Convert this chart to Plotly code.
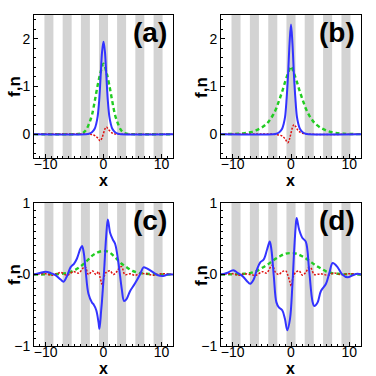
import plotly.graph_objects as go

# gray stripes (x ranges)
stripe_lo = [-10.2, -7.05, -3.9, -0.78, 2.35, 5.5, 8.65]
stripe_hi = [-8.65, -5.5, -2.35, 0.78, 3.9, 7.05, 10.2]

# panel (a)
xa_f = [-12, -3, -2.5, -2, -1.5, -1.25, -1, -0.75, -0.5, -0.25, 0, 0.25, 0.5, 0.75, 1, 1.25, 1.5, 2, 2.5, 3, 12]
fa = [0, 0, 0.01, 0.04, 0.12, 0.22, 0.38, 0.7, 1.2, 1.72, 1.94, 1.72, 1.2, 0.7, 0.38, 0.22, 0.12, 0.04, 0.01, 0, 0]
xa_n = [-12, -5, -4, -3.5, -3, -2.5, -2, -1.5, -1, -0.5, 0, 0.5, 1, 1.5, 2, 2.5, 3, 3.5, 4, 5, 12]
na = [0, 0, 0.01, 0.03, 0.09, 0.22, 0.4, 0.7, 1.03, 1.3, 1.48, 1.3, 1.03, 0.7, 0.4, 0.22, 0.09, 0.03, 0.01, 0, 0]
xa_r = [-12, -2.5, -2, -1.5, -1, -0.6, -0.3, 0, 0.25, 0.5, 0.8, 1.2, 1.6, 2, 2.5, 12]
ra = [0, 0, -0.01, -0.03, -0.08, -0.14, -0.09, 0.02, 0.11, 0.15, 0.11, 0.05, 0.02, 0.005, 0, 0]

# panel (b)
xb_f = [-12, -3, -2.5, -2, -1.5, -1.25, -1, -0.75, -0.5, -0.25, 0, 0.25, 0.5, 0.75, 1, 1.25, 1.5, 2, 2.5, 3, 12]
fb = [0, 0, 0.01, 0.04, 0.12, 0.22, 0.38, 0.75, 1.25, 1.9, 2.3, 1.9, 1.25, 0.75, 0.38, 0.22, 0.12, 0.04, 0.01, 0, 0]
xb_n = [-12, -10, -9, -8, -7, -6, -5, -4, -3.5, -3, -2.5, -2, -1.5, -1, -0.5, 0,
        0.5, 1, 1.5, 2, 2.5, 3, 3.5, 4, 5, 6, 7, 8, 9, 10, 12]
nb = [0, 0.005, 0.01, 0.02, 0.04, 0.08, 0.14, 0.24, 0.32, 0.42, 0.55, 0.72, 0.9, 1.1, 1.28, 1.42,
      1.28, 1.1, 0.9, 0.72, 0.55, 0.42, 0.32, 0.24, 0.14, 0.08, 0.04, 0.02, 0.01, 0.005, 0]
xb_r = [-12, -3, -2.5, -2, -1.5, -1, -0.55, -0.25, 0, 0.25, 0.5, 0.8, 1.2, 1.6, 2, 2.5, 3, 12]
rb = [0, 0, -0.01, -0.02, -0.04, -0.1, -0.18, -0.1, 0.02, 0.14, 0.2, 0.16, 0.08, 0.04, 0.02, 0.01, 0, 0]

# panel (c)
xc_f = [-12, -11, -10, -9.1, -8.3, -7.4, -6.9, -6.3, -5.7, -5.1, -4.6, -4.0, -3.7, -3.4, -3.1, -2.6, -2.0, -1.7,
        -1.25, -0.86, -0.7, -0.4, -0.27, 0.1, 0.46, 0.75, 1.15, 1.6, 2.0, 2.57, 3.15, 3.55, 4.0, 4.6, 5.4,
        6.3, 6.9, 7.4, 8.0, 8.6, 9.4, 10.3, 11.1, 12]
fc = [0, 0.02, 0.04, 0.02, -0.01, -0.07, -0.1, -0.02, 0.1, 0.15, 0.22, 0.36, 0.4, 0.3, 0.07, -0.27, -0.39, -0.42,
      -0.5, -0.67, -0.76, -0.5, -0.38, 0.05, 0.53, 0.77, 0.58, 0.49, 0.43, 0.17, -0.2, -0.37, -0.34, -0.23, -0.13,
      0.0, 0.1, 0.09, 0.06, 0.03, -0.01, -0.02, 0, 0]
xc_n = [-12, -9, -8, -7, -6, -5, -4, -3, -2, -1, 0, 1, 2, 3, 4, 5, 6, 7, 8, 9, 12]
nc = [0, 0.003, 0.006, 0.012, 0.025, 0.06, 0.11, 0.18, 0.26, 0.31, 0.33, 0.31, 0.24, 0.16, 0.1, 0.05, 0.025, 0.012, 0.006, 0.003, 0]
xc_r = [-12, -10, -9, -8, -7.4, -6.3, -5.2, -4.3, -3.2, -2.6, -1.9, -1.3, -0.86, -0.6, -0.3, -0.15, 0.05, 0.46,
        1.15, 1.7, 2.3, 2.85, 3.15, 3.7, 4.6, 5.4, 6.3, 7.4, 8.5, 10, 12]
rc = [0, 0.01, -0.01, 0.01, 0.03, -0.01, 0.04, 0.02, 0.11, 0.0, 0.05, 0.0, 0.04, -0.04, -0.13, -0.17, -0.05, 0.03,
      0.05, 0.0, 0.04, 0.1, 0.11, 0.0, 0.01, -0.01, 0.01, 0.01, -0.01, 0.01, 0]

# panel (d)
xd_f = [-12, -11, -9.9, -9.1, -8.2, -7.57, -7.0, -6.4, -5.84, -5.27, -4.68, -4.1, -3.64, -3.36, -2.95, -2.5, -2.08,
        -1.5, -1.04, -0.64, -0.17, 0.23, 0.52, 0.8, 0.97, 1.39, 1.96, 2.53, 3.1, 3.69, 3.98, 4.56, 5.13, 6.0,
        6.6, 7.15, 8.0, 8.8, 9.7, 10.6, 11.4, 12]
fd = [0, 0.02, 0.06, 0.02, -0.03, -0.09, -0.13, -0.07, 0.07, 0.17, 0.21, 0.35, 0.46, 0.35, -0.02, -0.39, -0.46,
      -0.5, -0.62, -0.78, -0.62, -0.16, 0.3, 0.67, 0.79, 0.63, 0.51, 0.46, 0.07, -0.38, -0.44, -0.39, -0.23, -0.13,
      0.03, 0.16, 0.1, 0.0, -0.04, -0.01, 0.01, 0]
xd_n = [-12, -9, -8, -7, -6, -5, -4, -3, -2, -1, 0, 1, 2, 3, 4, 5, 6, 7, 8, 9, 12]
nd = [0, 0.005, 0.01, 0.02, 0.045, 0.09, 0.14, 0.2, 0.25, 0.29, 0.3, 0.29, 0.25, 0.2, 0.14, 0.09, 0.045, 0.02, 0.01, 0.005, 0]
xd_r = [-12, -10, -9, -8, -7, -6, -4.9, -4.2, -3.24, -2.66, -2.1, -1.5, -0.9, -0.5, -0.17, 0.06, 0.35, 0.8,
        1.4, 1.96, 2.53, 3.1, 3.5, 3.98, 5.1, 6.3, 7.4, 8.5, 10, 12]
rd = [0, 0.01, -0.01, 0.01, 0.0, -0.01, 0.04, 0.02, 0.13, 0.03, 0.0, 0.04, 0.05, -0.02, -0.11, -0.16, -0.04, 0.03,
      0.05, -0.01, 0.03, 0.1, 0.08, 0.0, 0.01, -0.01, 0.02, 0.0, 0.01, 0]

panels = [
    ("(a)", xa_f, fa, xa_n, na, xa_r, ra, [-0.5, 2.5], [0, 1, 2]),
    ("(b)", xb_f, fb, xb_n, nb, xb_r, rb, [-0.5, 2.5], [0, 1, 2]),
    ("(c)", xc_f, fc, xc_n, nc, xc_r, rc, [-1, 1], [-1, 0, 1]),
    ("(d)", xd_f, fd, xd_n, nd, xd_r, rd, [-1, 1], [-1, 0, 1]),
]

# body margin is removed in the page (post_script), so the figure fills the window
W = H = 376


def px(p):
    return p / W


def py(p):
    return 1 - p / H


xdoms = [[px(34), px(173)], [px(221), px(361)]]
ydoms = [[py(158), py(15)], [py(346), py(203)]]
left_px = [34, 221]
top_px = [15, 203]

FONT = "Arial, Liberation Sans, sans-serif"
fig = go.Figure()
shapes = []
annotations = []

for i, (lab, xf, f, xn, n, xr, r, yr, yt) in enumerate(panels):
    k = i + 1
    xa = "x" if k == 1 else f"x{k}"
    ya = "y" if k == 1 else f"y{k}"
    col, row = i % 2, i // 2
    fig.add_trace(go.Scatter(x=xn, y=n, mode="lines",
                             line=dict(color="#22cc22", width=2.4, dash="4px,3px", shape="spline"),
                             xaxis=xa, yaxis=ya, showlegend=False))
    fig.add_trace(go.Scatter(x=xr, y=r, mode="lines",
                             line=dict(color="#e01010", width=1.5, dash="2px,1.5px", shape="spline"),
                             xaxis=xa, yaxis=ya, showlegend=False))
    fig.add_trace(go.Scatter(x=xf, y=f, mode="lines", line=dict(color="#3333ff", width=2, shape="spline"),
                             xaxis=xa, yaxis=ya, showlegend=False))
    axis_common = dict(showgrid=False, zeroline=False, showline=True, linecolor="black", linewidth=1, mirror=True,
                       ticks="inside", ticklen=4, tickcolor="black", automargin=False,
                       tickfont=dict(family=FONT, size=14, color="black"),
                       minor=dict(ticks="inside", ticklen=2, tickcolor="black"))
    fig.layout[xa.replace("x", "xaxis")] = dict(domain=xdoms[col], range=[-12, 12], tickvals=[-10, 0, 10],
                                                 anchor=ya, ticklabelstandoff=-7, **axis_common)
    fig.layout[ya.replace("y", "yaxis")] = dict(domain=ydoms[row], range=yr, tickvals=yt, anchor=xa, **axis_common)
    for lo, hi in zip(stripe_lo, stripe_hi):
        shapes.append(dict(type="rect", xref=xa, yref=f"{ya} domain", x0=lo, x1=hi, y0=0, y1=1,
                           fillcolor="#d3d3d3", line=dict(width=0), layer="below"))
    lp, tp = left_px[col], top_px[row]
    text_style = dict(xref="paper", yref="paper", showarrow=False, xanchor="center", yanchor="middle")
    annotations.append(dict(text=f"<b>{lab}</b>", x=px(lp + 116), y=py(tp + 17),
                            font=dict(family=FONT, size=28, color="black"), **text_style))
    annotations.append(dict(text="<b>x</b>", x=px(lp + 69), y=py(tp + 165),
                            font=dict(family=FONT, size=16, color="black"), **text_style))
    annotations.append(dict(text="<b>f,n</b>", x=px(lp - 20), y=py(tp + 72), textangle=-90,
                            font=dict(family=FONT, size=17, color="black"), **text_style))

fig.update_layout(width=W, height=H, margin=dict(l=0, r=0, t=0, b=0), plot_bgcolor="white",
                  paper_bgcolor="white", shapes=shapes, annotations=annotations)
fig.write_html("out.html", config={"displayModeBar": False},
               post_script="document.body.style.margin='0px';")
